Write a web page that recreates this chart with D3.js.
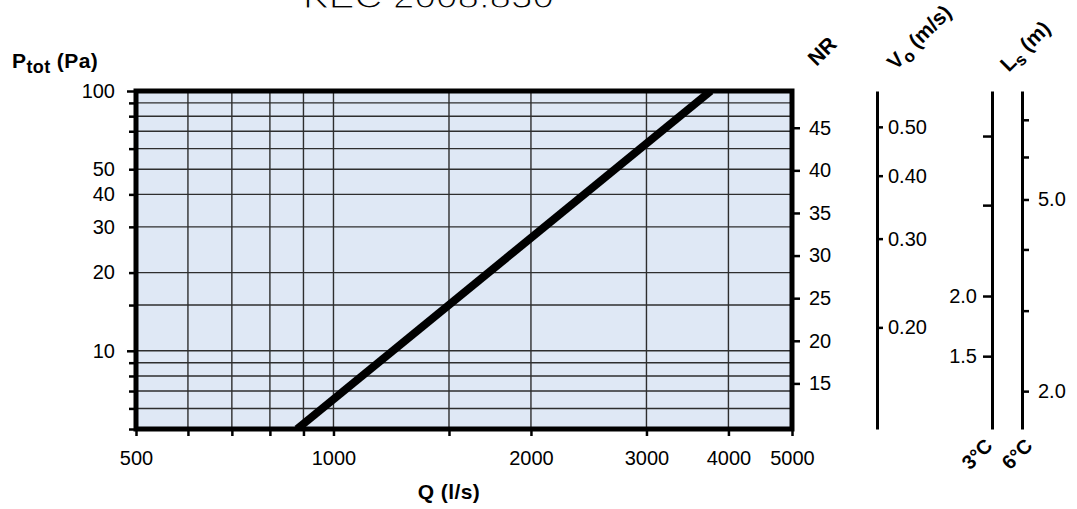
<!DOCTYPE html>
<html>
<head>
<meta charset="utf-8">
<script src="https://cdn.jsdelivr.net/npm/d3@7"></script>
<style>
  body { margin: 0; background: #fff; }
  text { font-family: "Liberation Sans", Arial, Helvetica, sans-serif; fill: #000; }
</style>
</head>
<body>
<svg id="chart" width="1077" height="509"></svg>
<script>
// ---- data ----
const flowLabels = [500, 1000, 2000, 3000, 4000, 5000];
const flowGrid = [600, 700, 800, 900, 1000, 1500, 2000, 3000, 4000];
const flowTicks = [500, 600, 700, 800, 900, 1000, 1500, 2000, 3000, 4000, 5000];
const pressureLabels = [100, 50, 40, 30, 20, 10];
const pressureGrid = [6, 7, 8, 9, 10, 15, 20, 30, 40, 50, 60, 70, 80, 90];
const pressureTicks = [5, 6, 7, 8, 9, 10, 15, 20, 30, 40, 50, 60, 70, 80, 90, 100];
const curveFlow = [880, 3760];      // Q (l/s)
const curvePressure = [5, 100];     // Ptot (Pa)
const nrTicks = [15, 20, 25, 30, 35, 40, 45];
const nrRange = [9.65, 49.31];
const voTicks = [0.20, 0.30, 0.40, 0.50];
const voRange = [0.1257, 0.589];
const ls3Ticks = [1.5, 2.0, 3.0, 4.0];
const ls3Labels = [1.5, 2.0];
const ls3Range = [1.034, 4.784];
const ls6Ticks = [2, 3, 4, 5, 6, 7];
const ls6Labels = [2, 5];
const ls6Range = [1.633, 7.863];

// ---- layout ----
const plot = { left: 136, right: 792, top: 91, bottom: 429 };
const svg = d3.select("#chart");

const x = d3.scaleLog().domain([500, 5000]).range([plot.left, plot.right]);
const y = d3.scaleLog().domain([5, 100]).range([plot.bottom, plot.top]);
const nr = d3.scaleLinear().domain(nrRange).range([plot.bottom, plot.top]);
const vo = d3.scaleLog().domain(voRange).range([plot.bottom, plot.top]);
const ls3 = d3.scalePow().exponent(0.2).domain(ls3Range).range([plot.bottom, plot.top]);
const ls6 = d3.scalePow().exponent(0.2).domain(ls6Range).range([plot.bottom, plot.top]);

// title along the top edge (thin strokes: white outline trims the glyphs)
svg.append("text")
  .attr("x", 303).attr("y", 8)
  .attr("font-family", "'Liberation Sans', Arial, sans-serif")
  .attr("font-size", 34)
  .attr("stroke", "#fff").attr("stroke-width", 1.1)
  .attr("textLength", 251).attr("lengthAdjust", "spacingAndGlyphs")
  .text("KEC 2008.830");

// plot background
svg.append("rect")
  .attr("x", plot.left).attr("y", plot.top)
  .attr("width", plot.right - plot.left).attr("height", plot.bottom - plot.top)
  .attr("fill", "#dfe8f5");

// grid
const grid = svg.append("g").attr("stroke", "#2e2e2e").attr("stroke-width", 1.4);
grid.selectAll("line.v").data(flowGrid).join("line")
  .attr("x1", d => x(d)).attr("x2", d => x(d))
  .attr("y1", plot.top).attr("y2", plot.bottom);
grid.selectAll("line.h").data(pressureGrid).join("line")
  .attr("y1", d => y(d)).attr("y2", d => y(d))
  .attr("x1", plot.left).attr("x2", plot.right);

// characteristic line
svg.append("clipPath").attr("id", "plotClip")
  .append("rect")
  .attr("x", plot.left).attr("y", plot.top)
  .attr("width", plot.right - plot.left).attr("height", plot.bottom - plot.top);
const curve = curveFlow.map((q, i) => ({ q, p: curvePressure[i] }));
svg.append("path")
  .datum(curve)
  .attr("clip-path", "url(#plotClip)")
  .attr("fill", "none").attr("stroke", "#000").attr("stroke-width", 8)
  .attr("d", d3.line().x(d => x(d.q)).y(d => y(d.p)));

// frame
svg.append("rect")
  .attr("x", plot.left).attr("y", plot.top)
  .attr("width", plot.right - plot.left).attr("height", plot.bottom - plot.top)
  .attr("fill", "none").attr("stroke", "#000").attr("stroke-width", 5);

function styleAxis(g, size) {
  g.selectAll(".tick line").attr("stroke", "#000").attr("stroke-width", 2.5);
  g.selectAll(".tick text").attr("font-size", size).attr("font-family", "'Liberation Sans', Arial, sans-serif");
}

// pressure axis
const gLeft = svg.append("g").attr("transform", `translate(${plot.left},0)`)
  .call(d3.axisLeft(y).tickValues(pressureTicks).tickSize(7).tickPadding(14)
    .tickFormat(d => pressureLabels.includes(d) ? d : ""));
gLeft.select(".domain").remove();
styleAxis(gLeft, 20);
gLeft.selectAll(".tick line").filter(d => d === 10 || d === 100).attr("x2", -9);

// flow axis
const gBottom = svg.append("g").attr("transform", `translate(0,${plot.bottom})`)
  .call(d3.axisBottom(x).tickValues(flowTicks).tickSize(7).tickPadding(15)
    .tickFormat(d => flowLabels.includes(d) ? d : ""));
gBottom.select(".domain").remove();
styleAxis(gBottom, 20);

// NR axis
const gNr = svg.append("g").attr("transform", `translate(${plot.right},0)`)
  .call(d3.axisRight(nr).tickValues(nrTicks).tickSize(8).tickPadding(9));
gNr.select(".domain").remove();
styleAxis(gNr, 20);

// throw velocity axis
const gVo = svg.append("g").attr("transform", "translate(877,0)")
  .call(d3.axisRight(vo).tickValues(voTicks).tickSize(6).tickSizeOuter(0).tickPadding(5)
    .tickFormat(d3.format(".2f")));
gVo.select(".domain").attr("stroke", "#000").attr("stroke-width", 3);
styleAxis(gVo, 20);

// throw length axes (3 °C and 6 °C)
const gLs3 = svg.append("g").attr("transform", "translate(992,0)")
  .call(d3.axisLeft(ls3).tickValues(ls3Ticks).tickSize(9).tickSizeOuter(0).tickPadding(6)
    .tickFormat(d => ls3Labels.includes(d) ? d3.format(".1f")(d) : ""));
gLs3.select(".domain").attr("stroke", "#000").attr("stroke-width", 3);
styleAxis(gLs3, 20);

const gLs6 = svg.append("g").attr("transform", "translate(1022,0)")
  .call(d3.axisRight(ls6).tickValues(ls6Ticks).tickSize(7).tickSizeOuter(0).tickPadding(9)
    .tickFormat(d => ls6Labels.includes(d) ? d3.format(".1f")(d) : ""));
gLs6.select(".domain").attr("stroke", "#000").attr("stroke-width", 3);
styleAxis(gLs6, 20);

// axis titles
const pTitle = svg.append("text").attr("x", 12).attr("y", 68)
  .attr("font-weight", "bold").attr("font-size", 21).attr("letter-spacing", 0.4);
pTitle.append("tspan").text("P");
pTitle.append("tspan").attr("font-size", 18).attr("dy", 5).text("tot");
pTitle.append("tspan").attr("dy", -5).text(" (Pa)");

svg.append("text").attr("x", 449).attr("y", 499)
  .attr("text-anchor", "middle").attr("font-weight", "bold").attr("font-size", 21)
  .attr("letter-spacing", 0.4)
  .text("Q (l/s)");

function diagonal(cx, cy, size, parts) {
  const t = svg.append("text")
    .attr("transform", `translate(${cx},${cy}) rotate(-45)`)
    .attr("text-anchor", "middle").attr("dy", "0.35em")
    .attr("font-weight", "bold").attr("font-size", size);
  parts.forEach(([s, sub]) => {
    const sp = t.append("tspan").text(s);
    if (sub === 1) sp.attr("font-size", size - 4).attr("dy", 5);
    if (sub === -1) sp.attr("dy", -5);
  });
  return t;
}
diagonal(822, 51, 21, [["NR", 0]]);
diagonal(919, 37, 21, [["V", 0], ["o", 1], [" (m/s)", -1]]);
diagonal(1025, 46, 21, [["L", 0], ["s", 1], [" (m)", -1]]);
diagonal(977, 454, 20, [["3°C", 0]]);
diagonal(1017, 454, 20, [["6°C", 0]]);
</script>
</body>
</html>
